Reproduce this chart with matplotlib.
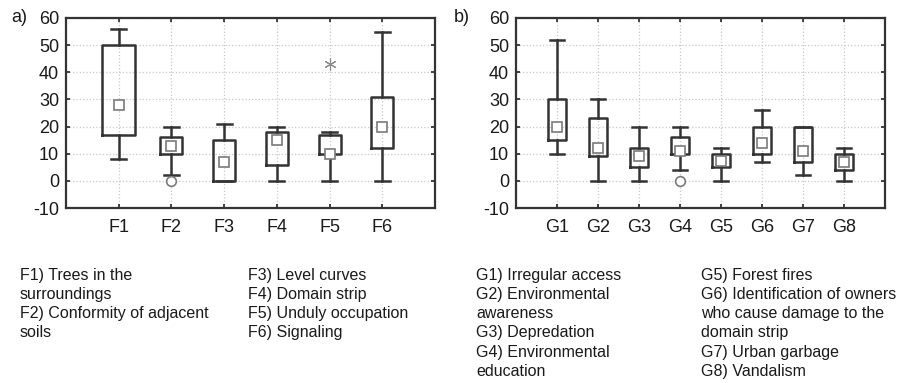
import matplotlib.pyplot as plt

plt.rcParams['font.family'] = ['Liberation Sans', 'DejaVu Sans']
plt.rcParams['axes.unicode_minus'] = False

# panel a) factors F1..F6
f_labels = ['F1', 'F2', 'F3', 'F4', 'F5', 'F6']
f_whislo = [8, 2, 0, 0, 0, 0]
f_q1 = [17, 10, 0, 6, 10, 12]
f_med = [28, 13, 7, 15, 10, 20]
f_q3 = [50, 16, 15, 18, 17, 31]
f_whishi = [56, 20, 21, 20, 18, 55]
f_outlier_pos = [2]
f_outlier_val = [0]
f_extreme_pos = [5]
f_extreme_val = [43]

# panel b) factors G1..G8
g_labels = ['G1', 'G2', 'G3', 'G4', 'G5', 'G6', 'G7', 'G8']
g_whislo = [10, 0, 0, 4, 0, 7, 2, 0]
g_q1 = [15, 9, 5, 10, 5, 10, 7, 4]
g_med = [20, 12, 9, 11, 7.5, 14, 11, 7]
g_q3 = [30, 23, 12, 16, 10, 20, 20, 10]
g_whishi = [52, 30, 20, 20, 12, 26, 20, 12]
g_outlier_pos = [4]
g_outlier_val = [0]
g_extreme_pos = []
g_extreme_val = []

f_legend_1 = ['F1) Trees in the', 'surroundings', 'F2) Conformity of adjacent', 'soils']
f_legend_2 = ['F3) Level curves', 'F4) Domain strip', 'F5) Unduly occupation', 'F6) Signaling']
g_legend_1 = ['G1) Irregular access', 'G2) Environmental', 'awareness', 'G3) Depredation',
              'G4) Environmental', 'education']
g_legend_2 = ['G5) Forest fires', 'G6) Identification of owners', 'who cause damage to the',
              'domain strip', 'G7) Urban garbage', 'G8) Vandalism']

W, H = 899, 383
fig = plt.figure(figsize=(W / 100, H / 100), dpi=100)

line_c = '#333333'
mark_c = '#7a7a7a'


def panel(left, labels, whislo, q1, med, q3, whishi, opos, oval, epos, eval_, widths, capw, tag, tagx):
    ax = fig.add_axes([left / W, 1 - 208 / H, 369 / W, 190 / H])
    stats = []
    for i in range(len(labels)):
        stats.append(dict(label=labels[i], whislo=whislo[i], q1=q1[i], med=med[i],
                          q3=q3[i], whishi=whishi[i], mean=med[i], fliers=[]))
    pos = list(range(1, len(labels) + 1))
    ax.bxp(stats, positions=pos, widths=widths, capwidths=capw, showmeans=True,
           boxprops=dict(color=line_c, linewidth=1.8),
           whiskerprops=dict(color=line_c, linewidth=1.8),
           capprops=dict(color=line_c, linewidth=1.8),
           medianprops=dict(visible=False),
           meanprops=dict(marker='s', markersize=7.5, markerfacecolor='white',
                          markeredgecolor=mark_c, markeredgewidth=1.2),
           zorder=3)
    ax.plot(opos, oval, 'o', markersize=7, markerfacecolor='white',
            markeredgecolor=mark_c, markeredgewidth=1.2, zorder=4, clip_on=False)
    if epos:
        ax.plot(epos, eval_, marker=(6, 2, 0), linestyle='none', markersize=8.5,
                color='#8a8a8a', markeredgewidth=0.8, zorder=4)
    ax.set_xlim(0, len(labels) + 1)
    ax.set_ylim(-10, 60)
    ax.set_yticks(range(-10, 61, 10))
    ax.set_xticks(pos)
    ax.set_xticklabels(labels)
    ax.grid(True, color='#c8c8c8', linestyle=':', linewidth=0.9, zorder=0)
    ax.set_axisbelow(True)
    ax.tick_params(direction='in', length=3, width=1.3, color=line_c,
                   top=True, right=True, labelsize=13, labelcolor='#1a1a1a')
    ax.tick_params(axis='x', pad=8)
    ax.tick_params(axis='y', pad=5)
    for s in ax.spines.values():
        s.set_linewidth(1.6)
        s.set_color(line_c)
    fig.text(tagx / W, 1 - 17 / H, tag, fontsize=13, color='#1a1a1a', va='center')
    return ax


panel(66, f_labels, f_whislo, f_q1, f_med, f_q3, f_whishi, f_outlier_pos, f_outlier_val,
      f_extreme_pos, f_extreme_val, [0.62] + [0.42] * 5, 0.28, 'a)', 11)
panel(516, g_labels, g_whislo, g_q1, g_med, g_q3, g_whishi, g_outlier_pos, g_outlier_val,
      g_extreme_pos, g_extreme_val, 0.42, 0.32, 'b)', 454)


def legend_block(x, lines):
    for i, t in enumerate(lines):
        fig.text(x / W, 1 - (279.8 + 19.2 * i) / H, t, fontsize=11.5,
                 color='#1a1a1a', va='baseline', ha='left')


legend_block(20, f_legend_1)
legend_block(248, f_legend_2)
legend_block(476, g_legend_1)
legend_block(701, g_legend_2)

fig.savefig('out.png', dpi=100)
